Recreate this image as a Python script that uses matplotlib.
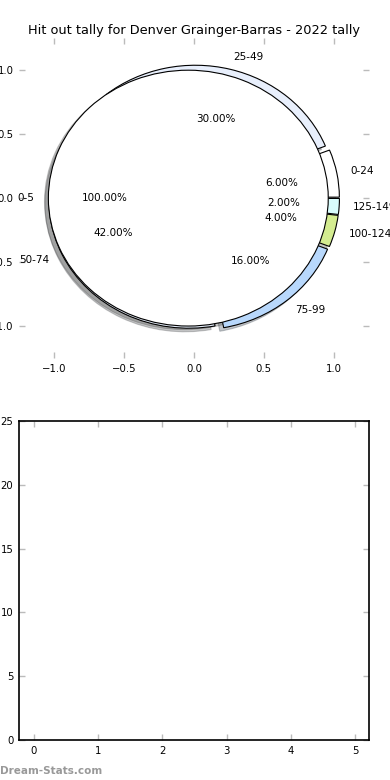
import numpy as np
import matplotlib
matplotlib.use('Agg')
import matplotlib.pyplot as plt


# hit out bands and how often each happened
bands = ['0-24', '25-49', '50-74', '75-99', '100-124', '125-149']
counts = [3, 15, 21, 8, 2, 1]
band_colors = ['#ffffff', '#e8effc', '#e4ecf8', '#b8d8fc', '#d4ec90', '#d8fcfc']

# the single "0-5" slice drawn over the top
top_band = ['0-5']
top_count = [1]

title = 'Hit out tally for Denver Grainger-Barras - 2022 tally'

pie_ticks = [-1.0, -0.5, 0.0, 0.5, 1.0]
bar_xticks = [0, 1, 2, 3, 4, 5]
bar_yticks = [0, 5, 10, 15, 20, 25]

tick_grey = '#bbbbbb'


def style_ticks(ax):
    ax.tick_params(direction='in', length=4, width=1, color=tick_grey,
                   top=True, right=True, labelsize=7.3, pad=4)


fig = plt.figure(figsize=(3.9, 7.8), dpi=100)

# top: pie chart
ax1 = fig.add_axes([0.0487, 0.541, 0.897, 0.410])
wprops = dict(edgecolor='black', linewidth=0.8)
shadow = {'ox': -0.02, 'oy': -0.02, 'alpha': 0.3}
ax1.pie(counts, labels=bands, colors=band_colors, explode=[0.04] * len(counts),
        autopct='%.2f%%', shadow=shadow, frame=False, wedgeprops=wprops,
        textprops=dict(fontsize=7.5))
ax1.pie(top_count, labels=top_band, colors=['white'], explode=[0.04],
        autopct='%.2f%%', shadow=shadow, frame=False, wedgeprops=wprops,
        textprops=dict(fontsize=7.5))
ax1.set_aspect('auto')
ax1.set_xlim(-1.25, 1.25)
ax1.set_ylim(-1.25, 1.25)
ax1.set_xticks(pie_ticks)
ax1.set_yticks(pie_ticks)
style_ticks(ax1)
ax1.set_title(title, fontsize=9.3, pad=3)

# bottom: empty axes
ax2 = fig.add_axes([0.0487, 0.0513, 0.897, 0.409])
ax2.set_xlim(-0.234, 5.216)
ax2.set_ylim(0, 25)
ax2.set_xticks(bar_xticks)
ax2.set_yticks(bar_yticks)
style_ticks(ax2)
for sp in ax2.spines.values():
    sp.set_linewidth(1.2)

fig.text(0.0, 0.005, 'Dream-Stats.com', fontsize=7.5, color='#999999',
         fontweight='bold', ha='left', va='bottom')

fig.savefig('out.png', dpi=100)
